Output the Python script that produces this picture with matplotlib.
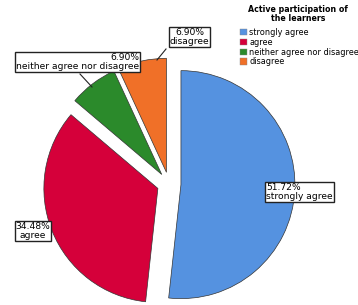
import matplotlib.pyplot as plt
import numpy as np

plt.rcParams['font.family'] = ['DejaVu Sans']

categories = ['strongly agree', 'agree', 'neither agree nor disagree', 'disagree']
percents = [51.72, 34.48, 6.90, 6.90]
colors = ['#5592E0', '#D5003A', '#2B8A2B', '#F07028']
legend_title = 'Active participation of\nthe learners'

fig = plt.figure(figsize=(3.58, 3.05), dpi=100)
ax = fig.add_axes([0, 0, 1, 1])

wedges, _ = ax.pie(percents, colors=colors, startangle=90, counterclock=False,
                   explode=[0.105] * 4, radius=1,
                   wedgeprops=dict(edgecolor='#333333', linewidth=0.5))

# pixel -> data helpers (center at 169,184 px, radius 114 px)
def px(x):
    return (x - 169) / 114

def py(y):
    return (184 - y) / 114

ax.set_xlim(px(0), px(358))
ax.set_ylim(py(305), py(0))
ax.set_aspect('auto')
ax.axis('off')

box = dict(boxstyle='square,pad=0.12', facecolor='white', edgecolor='#222222', linewidth=1)
fs = 6.6

ax.text(px(266), py(192), f'{percents[0]:.2f}%\n{categories[0]}', ha='left', va='center',
        fontsize=fs, bbox=box, linespacing=1.0)
ax.text(px(33), py(231), f'{percents[1]:.2f}%\n{categories[1]}', ha='center', va='center',
        multialignment='center', fontsize=fs, bbox=box, linespacing=1.0)
ax.text(px(77.5), py(62), f'{percents[2]:.2f}%\n{categories[2]}', ha='center', va='center',
        multialignment='right', fontsize=fs, bbox=box, linespacing=1.0)
ax.text(px(189.5), py(37), f'{percents[3]:.2f}%\n{categories[3]}', ha='center', va='center',
        multialignment='center', fontsize=fs, bbox=box, linespacing=1.0)

# leader lines
ax.plot([px(80), px(92)], [py(74), py(87)], color='#222222', linewidth=0.8)
ax.plot([px(166), px(157)], [py(49), py(60)], color='#222222', linewidth=0.8)

# legend title drawn separately, entries below
fig.text(298 / 358, 1 - 14 / 305, legend_title, ha='center', va='center',
         fontsize=5.7, fontweight='bold', linespacing=1.0)
leg = fig.legend(wedges, categories, loc='upper left', bbox_to_anchor=(240 / 358, 1 - 28 / 305),
                 frameon=False, fontsize=5.9,
                 handlelength=0.85, handleheight=0.85, handletextpad=0.3,
                 labelspacing=0.1, borderpad=0, borderaxespad=0)
for h in leg.legend_handles:
    h.set_edgecolor('#888888')
    h.set_linewidth(0.3)

fig.savefig('out.png', dpi=100)
